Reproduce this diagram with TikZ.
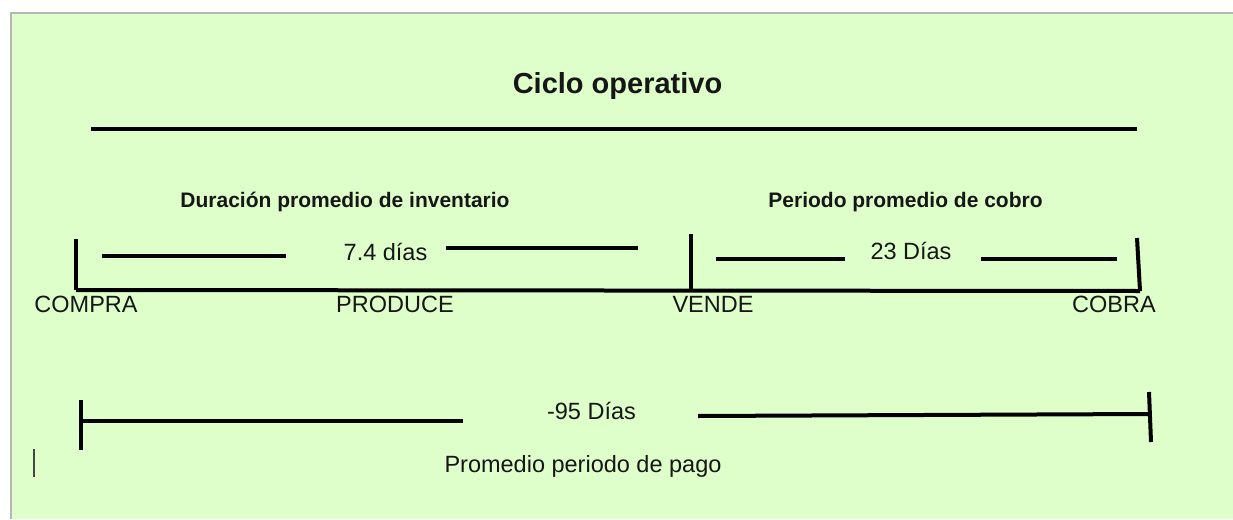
\documentclass[tikz,border=0pt]{standalone}
\usepackage{fontspec}
\setmainfont{Liberation Sans}
\usepackage{tikz}
\usetikzlibrary{positioning}
\definecolor{bggreen}{RGB}{222,255,202}
\definecolor{frame}{RGB}{182,182,182}
\definecolor{ink}{RGB}{22,22,22}
\tikzstyle{heading} = [inner sep=0pt, anchor=base, text=ink, font=\bfseries\fontsize{29}{33}\selectfont]
\tikzstyle{subheading} = [inner sep=0pt, anchor=base, text=ink, font=\bfseries\fontsize{21}{25}\selectfont]
\tikzstyle{txt} = [inner sep=0pt, anchor=base, text=ink, font=\fontsize{23.5}{27}\selectfont]
\tikzstyle{tedge} = [draw, line width=4pt, black]

\begin{document}
\begin{tikzpicture}[x=1pt, y=-1pt]

% page ===================================
\useasboundingbox (0,0) rectangle (1233,519);
\fill[white] (0,0) rectangle (1233,519);
\fill[bggreen] (11,13) rectangle (1233,519);
\draw[frame, line width=1.6pt] (10.8,519) -- (10.8,12.8) -- (1233,12.8);

% titles
\node[heading] (title) at (617.5,93) {Ciclo operativo};
\coordinate (top1) at (91,129);
\coordinate (top2) at (1137,129);
\node[subheading] (inv) at (345,207) {Duración promedio de inventario};
\node[subheading] (cob) at (905.5,207) {Periodo promedio de cobro};

% timeline points
\coordinate (compraT) at (76,239);
\coordinate (compra) at (76,290);
\coordinate (vendeT) at (691,234);
\coordinate (vende) at (691,290);
\coordinate (cobraT) at (1137,238);
\coordinate (cobra) at (1140,291);

\node[txt] (lcompra) at (86,312) {COMPRA};
\node[txt] (lproduce) at (395,312) {PRODUCE};
\node[txt] (lvende) at (713,312) {VENDE};
\node[txt] (lcobra) at (1114,312) {COBRA};

% inventory days
\node[txt] (dinv) at (385.5,260) {7.4 días};
\coordinate (a1) at (102,256);
\coordinate (a2) at (286,256);
\coordinate (a3) at (446,248);
\coordinate (a4) at (638,248);

% collection days
\node[txt] (dcob) at (911,259) {23 Días};
\coordinate (b1) at (716,259);
\coordinate (b2) at (845,259);
\coordinate (b3) at (981,259);
\coordinate (b4) at (1117,259);

% payment period
\coordinate (pagoT) at (81,400);
\coordinate (pagoB) at (81,450);
\coordinate (pago) at (81,421);
\coordinate (c1) at (463,421);
\coordinate (c2) at (698,416);
\coordinate (c3) at (1148,414);
\coordinate (finT) at (1149,392);
\coordinate (finB) at (1151,442);
\node[txt] (dpago) at (591.5,419) {-95 Días};
\node[txt] (pagolbl) at (583,472) {Promedio periodo de pago};

% cursor
\coordinate (cur1) at (34,449);
\coordinate (cur2) at (34,477);

%edges
\path[tedge] (top1) -- (top2);

\path[tedge] (compraT) -- (compra);
\path[tedge] (compra) -- (cobra);
\path[tedge] (vendeT) -- (vende);
\path[tedge] (cobraT) -- (cobra);

\path[tedge] (a1) -- (a2);
\path[tedge] (a3) -- (a4);
\path[tedge] (b1) -- (b2);
\path[tedge] (b3) -- (b4);

\path[tedge] (pagoT) -- (pagoB);
\path[tedge] (pago) -- (c1);
\path[tedge] (c2) -- (c3);
\path[tedge] (finT) -- (finB);

\path[draw, line width=1.4pt, ink!80] (cur1) -- (cur2);

\end{tikzpicture}
\end{document}
